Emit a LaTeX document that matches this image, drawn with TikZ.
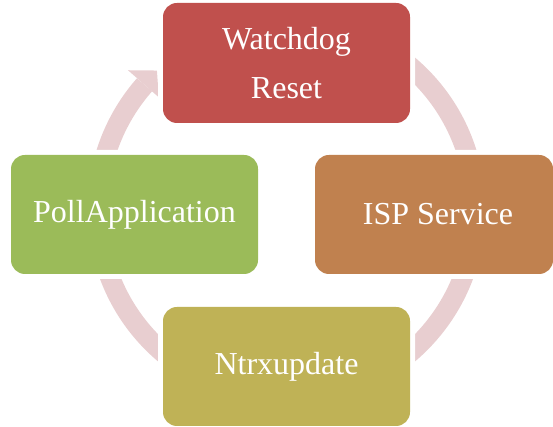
\documentclass[tikz,border=0pt]{standalone}
\usepackage{fontspec}
\setmainfont{Liberation Serif}
\usetikzlibrary{calc}
\definecolor{ringc}{RGB}{232,206,208}
\definecolor{wdred}{RGB}{192,80,77}
\definecolor{isporange}{RGB}{192,129,79}
\definecolor{ntrxolive}{RGB}{191,178,86}
\definecolor{pollgreen}{RGB}{155,187,89}
\tikzset{
  cyclebox/.style={rounded corners=14pt, preaction={draw=white,line width=10pt},
    text=white, font=\fontsize{32}{49}\selectfont, align=center, inner sep=0pt},
  ringline/.style={draw=ringc, line width=20pt},
}
\begin{document}
\begin{tikzpicture}[x=1pt,y=1pt]
\useasboundingbox (0,0) rectangle (553,427);
\coordinate (C) at (286.5,217.5);
% ring
\draw[ringline] (C) ++(138.7:189pt) arc[start angle=138.7, end angle=450, radius=189pt];
\coordinate (ha) at ($(C)+(138.7:170pt)$);
\coordinate (hb) at ($(C)+(133:190pt)$);
\coordinate (hc) at ($(C)+(138.7:211pt)$);
\fill[ringc] (ha) -- (hb) -- (hc) -- cycle;
% boxes
\node[cyclebox, fill=wdred, minimum width=247pt, minimum height=120pt] (wd) at (286.5,364) {Watchdog\\Reset};
\node[cyclebox, fill=isporange, minimum width=238pt, minimum height=119pt] (isp) at (434,212.5) {\hspace*{8pt}ISP Service};
\node[cyclebox, fill=ntrxolive, minimum width=247pt, minimum height=119pt] (ntrx) at (286.5,60.5) {Ntrxupdate};
\node[cyclebox, fill=pollgreen, minimum width=247pt, minimum height=119pt] (poll) at (134.5,212.5) {PollApplication};
\end{tikzpicture}
\end{document}
